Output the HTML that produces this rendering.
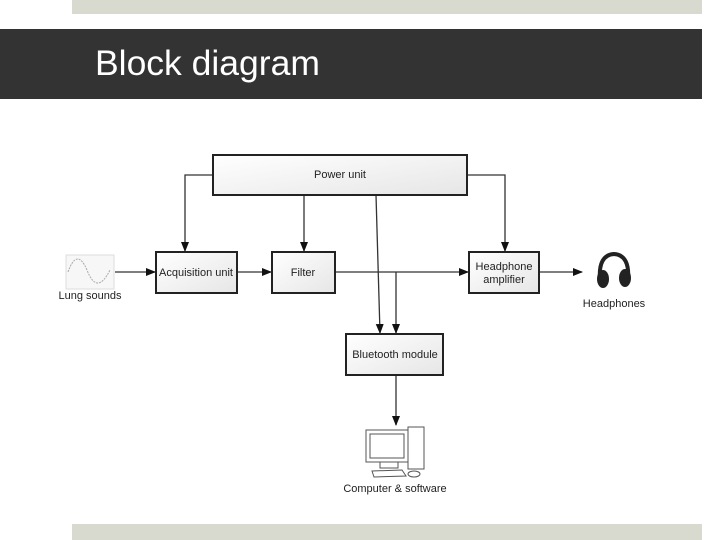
<!DOCTYPE html>
<html><head><meta charset="utf-8"><style>
html,body{margin:0;padding:0;background:#fff;}
body{width:720px;height:540px;position:relative;overflow:hidden;font-family:"Liberation Sans",Arial,sans-serif;}
</style></head><body>
<div style="position:absolute;left:72px;top:0;width:630px;height:14px;background:#d8dad0"></div>
<div style="position:absolute;left:0;top:29px;width:702px;height:70px;background:#333"></div>
<div style="position:absolute;left:95px;top:43px;color:#fff;font-size:35.5px;">Block diagram</div>
<div style="position:absolute;left:72px;top:524px;width:630px;height:16px;background:#d8dad0"></div>
<svg width="720" height="540" style="position:absolute;left:0;top:0" font-family="Liberation Sans, Arial, sans-serif" font-size="11" fill="#222">
<defs>
<linearGradient id="g" x1="0" y1="0" x2="1" y2="1"><stop offset="0" stop-color="#fff"/><stop offset="1" stop-color="#e6e6e6"/></linearGradient>
<marker id="a" markerWidth="10" markerHeight="8" refX="9" refY="4" orient="auto" markerUnits="userSpaceOnUse"><path d="M0,0 L10,4 L0,8z" fill="#111"/></marker>
</defs>
<g stroke="#333" stroke-width="1.3" fill="none">
<path d="M213,175 H185 V251" marker-end="url(#a)"/>
<path d="M304,195 V251" marker-end="url(#a)"/>
<path d="M467,175 H505 V251" marker-end="url(#a)"/>
<path d="M376,195 L380,333" marker-end="url(#a)"/>
<path d="M115,272 H155" marker-end="url(#a)"/>
<path d="M237,272 H271" marker-end="url(#a)"/>
<path d="M335,272 H468" marker-end="url(#a)"/>
<path d="M396,272 V333" marker-end="url(#a)"/>
<path d="M539,272 H582" marker-end="url(#a)"/>
<path d="M396,375 V425" marker-end="url(#a)"/>
</g>
<g stroke="#222" stroke-width="2" fill="url(#g)">
<rect x="213" y="155" width="254" height="40"/>
<rect x="156" y="252" width="81" height="41"/>
<rect x="272" y="252" width="63" height="41"/>
<rect x="469" y="252" width="70" height="41"/>
<rect x="346" y="334" width="97" height="41"/>
</g>
<text x="340" y="178" text-anchor="middle">Power unit</text>
<text x="196" y="276" text-anchor="middle">Acquisition unit</text>
<text x="303" y="276" text-anchor="middle">Filter</text>
<text x="504" y="270" text-anchor="middle">Headphone</text>
<text x="504" y="283" text-anchor="middle">amplifier</text>
<text x="395" y="358" text-anchor="middle">Bluetooth module</text>
<text x="90" y="299" text-anchor="middle">Lung sounds</text>
<text x="614" y="307" text-anchor="middle">Headphones</text>
<text x="395" y="492" text-anchor="middle">Computer &amp; software</text>
<rect x="66" y="255" width="48" height="34" fill="#f7f7f7" stroke="#ddd"/>
<path d="M68,272 Q77,247 87,270 Q97,296 110,270" fill="none" stroke="#aaa" stroke-width="1" stroke-dasharray="2,1"/>
<g fill="#222">
<path d="M600,280 Q598,255 614,254 Q630,255 628,280" fill="none" stroke="#222" stroke-width="4"/>
<ellipse cx="603" cy="279" rx="6" ry="9"/>
<ellipse cx="625" cy="278" rx="6" ry="9"/>
</g>
<g fill="none" stroke="#555" stroke-width="1">
<rect x="366" y="430" width="42" height="32"/>
<rect x="370" y="434" width="34" height="24"/>
<rect x="408" y="427" width="16" height="42"/>
<path d="M380,462 V468 H398 V462"/>
<path d="M372,471 L402,470 L406,476 L374,477z"/>
<ellipse cx="414" cy="474" rx="6" ry="3"/>
</g>
</svg>
</body></html>
